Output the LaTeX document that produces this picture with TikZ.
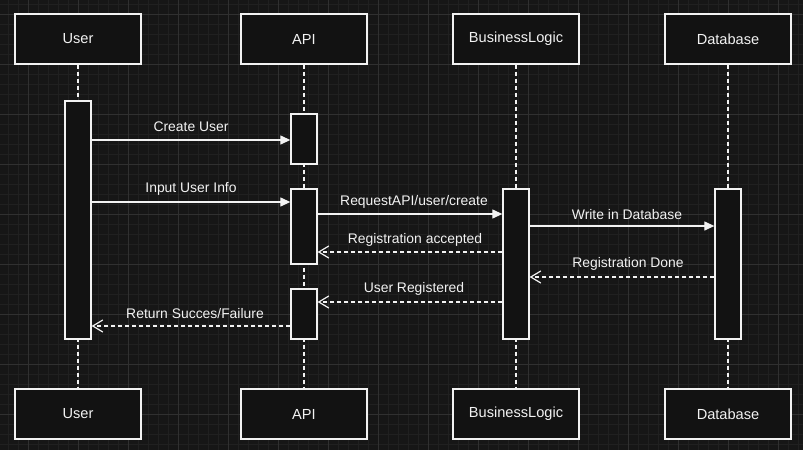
\documentclass[tikz,border=0pt]{standalone}
\usepackage{fontspec}
\setmainfont{Liberation Sans}
\usetikzlibrary{arrows.meta}
\definecolor{bg}{HTML}{161616}
\definecolor{gridminor}{HTML}{202020}
\definecolor{gridmajor}{HTML}{303030}
\definecolor{boxfill}{HTML}{121212}
\definecolor{ink}{HTML}{F2F2F2}
\begin{document}
\begin{tikzpicture}[x=1pt,y=-1pt,
  actor/.style={draw=ink, line width=1.3pt, fill=boxfill, minimum width=126pt, minimum height=50pt, inner sep=0pt, text=ink, font=\fontsize{14.6}{17}\selectfont},
  bar/.style={draw=ink, line width=1.3pt, fill=boxfill, minimum width=26pt, inner sep=0pt},
  lifeline/.style={draw=ink, line width=1.2pt, dash pattern=on 4pt off 3pt},
  call/.style={draw=ink, line width=1.2pt, -{Triangle[length=10pt,width=9pt]}},
  reply/.style={draw=ink, line width=1.2pt, dash pattern=on 4pt off 3pt, -{Straight Barb[length=10pt,width=12pt,line width=1.2pt]}},
  lbl/.style={text=ink, font=\fontsize{13.9}{16}\selectfont, inner sep=0pt}
]
\useasboundingbox (0,0) rectangle (803,450);
\fill[bg] (0,0) rectangle (803,450);
% grid
\foreach \x in {8,18,...,798} \draw[gridminor, line width=0.8pt] (\x,0) -- (\x,450);
\foreach \y in {4,14,...,444} \draw[gridminor, line width=0.8pt] (0,\y) -- (803,\y);
\foreach \x in {28,78,...,778} \draw[gridmajor, line width=0.9pt] (\x,0) -- (\x,450);
\foreach \y in {14,64,...,414} \draw[gridmajor, line width=0.9pt] (0,\y) -- (803,\y);

% actors
\node[actor] (u)  at (78,39)  {User};
\node[actor] (a)  at (304,39) {API};
\node[actor] (b)  at (516,39) {BusinessLogic};
\node[actor] (d)  at (728,39) {Database};
\node[actor] (ub) at (78,414)  {User};
\node[actor] (ab) at (304,414) {API};
\node[actor] (bb) at (516,414) {BusinessLogic};
\node[actor] (db) at (728,414) {Database};

% lifelines
\draw[lifeline] (u.south) -- (ub.north);
\draw[lifeline] (a.south) -- (ab.north);
\draw[lifeline] (b.south) -- (bb.north);
\draw[lifeline] (d.south) -- (db.north);

% activation bars
\node[bar, minimum height=238pt] (ubar) at (78,220) {};
\node[bar, minimum height=50pt]  (a1)   at (304,139) {};
\node[bar, minimum height=75pt]  (a2)   at (304,226.5) {};
\node[bar, minimum height=50pt]  (a3)   at (304,314) {};
\node[bar, minimum height=150pt] (bbar) at (516,264) {};
\node[bar, minimum height=150pt] (dbar) at (728,264) {};

% messages
\draw[call] (ubar.east |- 0,140) -- (a1.west |- 0,140)
  node[lbl, midway, yshift=13pt, xshift=0pt] {Create User};
\draw[call] (ubar.east |- 0,202) -- (a2.west |- 0,202)
  node[lbl, midway, yshift=13pt, xshift=0pt] {Input User Info};
\draw[call] (a2.east |- 0,214) -- (bbar.west |- 0,214)
  node[lbl, midway, yshift=12pt, xshift=4pt] {RequestAPI/user/create};
\draw[call] (bbar.east |- 0,226) -- (dbar.west |- 0,226)
  node[lbl, midway, yshift=11pt, xshift=5pt] {Write in Database};
\draw[reply] (bbar.west |- 0,252) -- (a2.east |- 0,252)
  node[lbl, midway, yshift=12pt, xshift=5pt] {Registration accepted};
\draw[reply] (dbar.west |- 0,277) -- (bbar.east |- 0,277)
  node[lbl, midway, yshift=13pt, xshift=6pt] {Registration Done};
\draw[reply] (bbar.west |- 0,302) -- (a3.east |- 0,302)
  node[lbl, midway, yshift=13pt, xshift=4pt] {User Registered};
\draw[reply] (a3.west |- 0,326) -- (ubar.east |- 0,326)
  node[lbl, midway, yshift=12pt, xshift=4pt] {Return Succes/Failure};
\end{tikzpicture}
\end{document}
